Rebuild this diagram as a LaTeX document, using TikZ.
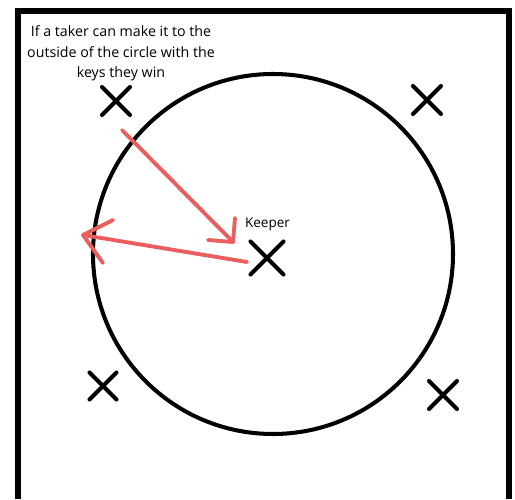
\documentclass[tikz,border=0pt]{standalone}
\usepackage{fontspec}
\setmainfont{Open Sans}
\usepackage{tkz-euclide}
\usetikzlibrary{shapes.misc}
\definecolor{ArrowClr}{RGB}{234,94,94}
\tikzset{xmark/.style={draw,cross out,line width=2.3pt,line cap=round,
  inner sep=0pt,minimum size=#1},xmark/.default=0.48cm}

\begin{document}
\begin{tikzpicture}
\useasboundingbox (0,0) rectangle (10.3,9.98);
\tkzSetUpLine[line width=2.2pt,color=ArrowClr,line cap=round]

\tkzDefPoints{0.36/0/F1,0.36/9.76/F2,10.18/9.76/F3,10.18/0/F4}
\tkzDefPoints{5.46/4.90/O,5.46/8.50/R}
% taker arrow
\tkzDefPoints{2.44/7.38/Ta,4.66/5.14/Tb,4.70/5.62/Tc,4.16/5.18/Td}
% keeper arrow
\tkzDefPoints{4.94/4.74/Ka,1.66/5.28/Kb,2.26/5.58/Kc,2.06/4.72/Kd}

\draw[line width=3.1pt,line join=miter] (F1) -- (F2) -- (F3) -- (F4);
\tkzDrawCircle[line width=2.3pt,color=black](O,R)

\node[xmark] (tl) at (2.32,7.96) {};
\node[xmark] (tr) at (8.54,7.98) {};
\node[xmark=0.46cm] (bl) at (2.06,2.26) {};
\node[xmark] (br) at (8.86,2.08) {};
\node[xmark=0.58cm] (keeper) at (5.34,4.82) {};

\tkzDrawSegments(Ta,Tb Tb,Tc Tb,Td)
\tkzDrawSegments(Ka,Kb Kb,Kc Kb,Kd)

\node[font=\fontsize{7.7}{9}\selectfont] (klabel) at (5.35,5.49) {Keeper};
\node[align=center,font=\fontsize{8.1}{11.6}\selectfont] (rule) at (2.42,8.91)
  {If a taker can make it to the\\outside of the circle with the\\keys they win};
\end{tikzpicture}
\end{document}
